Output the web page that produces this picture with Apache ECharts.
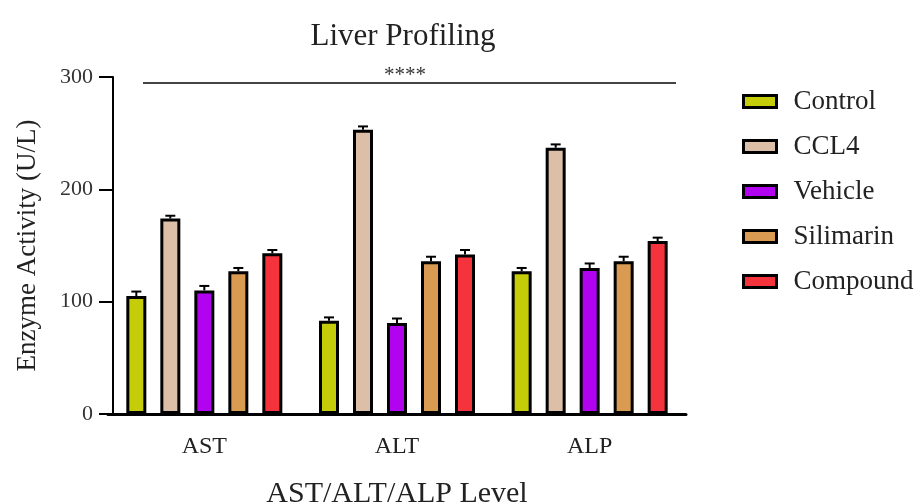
<!DOCTYPE html>
<html>
<head>
<meta charset="utf-8">
<script src="https://cdn.jsdelivr.net/npm/echarts@6/dist/echarts.min.js"></script>
<style>html,body{margin:0;padding:0;background:#fff;}#c{width:918px;height:504px;}</style>
</head>
<body>
<div id="c"></div>
<script>
const categories = ['AST', 'ALT', 'ALP'];
const seriesNames = ['Control', 'CCL4', 'Vehicle', 'Silimarin', 'Compound'];
const control = [105, 83, 127];
const ccl4 = [174, 253, 237];
const vehicle = [110, 81, 130];
const silimarin = [127, 136, 136];
const compound = [143, 142, 154];
const controlErr = [4, 3, 3];
const ccl4Err = [2.5, 3, 3];
const vehicleErr = [4, 4, 4];
const silimarinErr = [3, 4, 4];
const compoundErr = [3, 4, 3];
const yTicks = [0, 100, 200, 300];
const sigLabel = '****';

const values = [control, ccl4, vehicle, silimarin, compound];
const errs = [controlErr, ccl4Err, vehicleErr, silimarinErr, compoundErr];
const colors = ['#c5cc08', '#dcbfa6', '#b203f0', '#d99b52', '#f5333c'];
const FONT = '"Liberation Serif", "DejaVu Serif", serif';
const BAR_W = 20, GAP = 14;

const chart = echarts.init(document.getElementById('c'));
const series = [];
values.forEach((v, i) => {
  series.push({
    name: seriesNames[i], type: 'bar', data: v,
    barWidth: BAR_W, barGap: (GAP / BAR_W * 100) + '%',
    itemStyle: { color: colors[i], borderColor: '#000', borderWidth: 3 }
  });
});
values.forEach((v, i) => {
  series.push({
    type: 'custom', z: 5, silent: true,
    data: v.map((val, k) => [k, val, errs[i][k]]),
    renderItem: function (params, api) {
      const k = api.value(0), val = api.value(1), e = api.value(2);
      const base = api.coord([k, val]);
      const top = api.coord([k, val + e]);
      const x = base[0] + (i - 2) * (BAR_W + GAP);
      return {
        type: 'group',
        children: [
          { type: 'line', shape: { x1: x, y1: base[1], x2: x, y2: top[1] }, style: { stroke: '#000', lineWidth: 2 } },
          { type: 'line', shape: { x1: x - 5, y1: top[1], x2: x + 5, y2: top[1] }, style: { stroke: '#000', lineWidth: 2 } }
        ]
      };
    }
  });
});

chart.setOption({
  backgroundColor: '#fff',
  animation: false,
  title: {
    text: 'Liver Profiling', left: 398, top: 16, textAlign: 'center',
    textStyle: { fontFamily: FONT, fontSize: 31, fontWeight: 'normal', color: '#222' }
  },
  legend: {
    data: seriesNames, orient: 'vertical', left: 737, top: 83,
    icon: 'rect',
    itemWidth: 33, itemHeight: 12, itemGap: 18,
    textStyle: { fontFamily: FONT, fontSize: 27, color: '#222', padding: [0, 0, 0, 12] },
    itemStyle: { borderColor: '#000', borderWidth: 3 }
  },
  grid: { left: 108, right: 232, top: 77, bottom: 90, outerBoundsMode: 'none', containLabel: false },
  xAxis: {
    type: 'category', data: categories,
    name: 'AST/ALT/ALP Level', nameLocation: 'middle', nameGap: 65,
    nameTextStyle: { fontFamily: FONT, fontSize: 30, color: '#222' },
    axisLine: { lineStyle: { color: '#000', width: 3 } },
    axisTick: { alignWithLabel: true, length: 11, lineStyle: { color: '#000', width: 2 } },
    axisLabel: { fontFamily: FONT, fontSize: 24, color: '#222', margin: 21 }
  },
  yAxis: {
    type: 'value', min: yTicks[0], max: yTicks[yTicks.length - 1], interval: 100,
    offset: -5,
    name: 'Enzyme Activity (U/L)', nameLocation: 'middle', nameGap: 72,
    nameTextStyle: { fontFamily: FONT, fontSize: 27, color: '#222' },
    axisLine: { show: true, lineStyle: { color: '#000', width: 2 } },
    axisTick: { show: true, length: 14, lineStyle: { color: '#000', width: 2 } },
    axisLabel: { fontFamily: FONT, fontSize: 22, color: '#333', margin: 20 },
    splitLine: { show: false }
  },
  graphic: [
    { type: 'line', shape: { x1: 143, y1: 83, x2: 676, y2: 83 }, style: { stroke: '#444', lineWidth: 2 } },
    { type: 'text', left: 384, top: 65, style: { text: sigLabel, font: '21px ' + FONT, fill: '#333' } }
  ],
  series: series
});
</script>
</body>
</html>
